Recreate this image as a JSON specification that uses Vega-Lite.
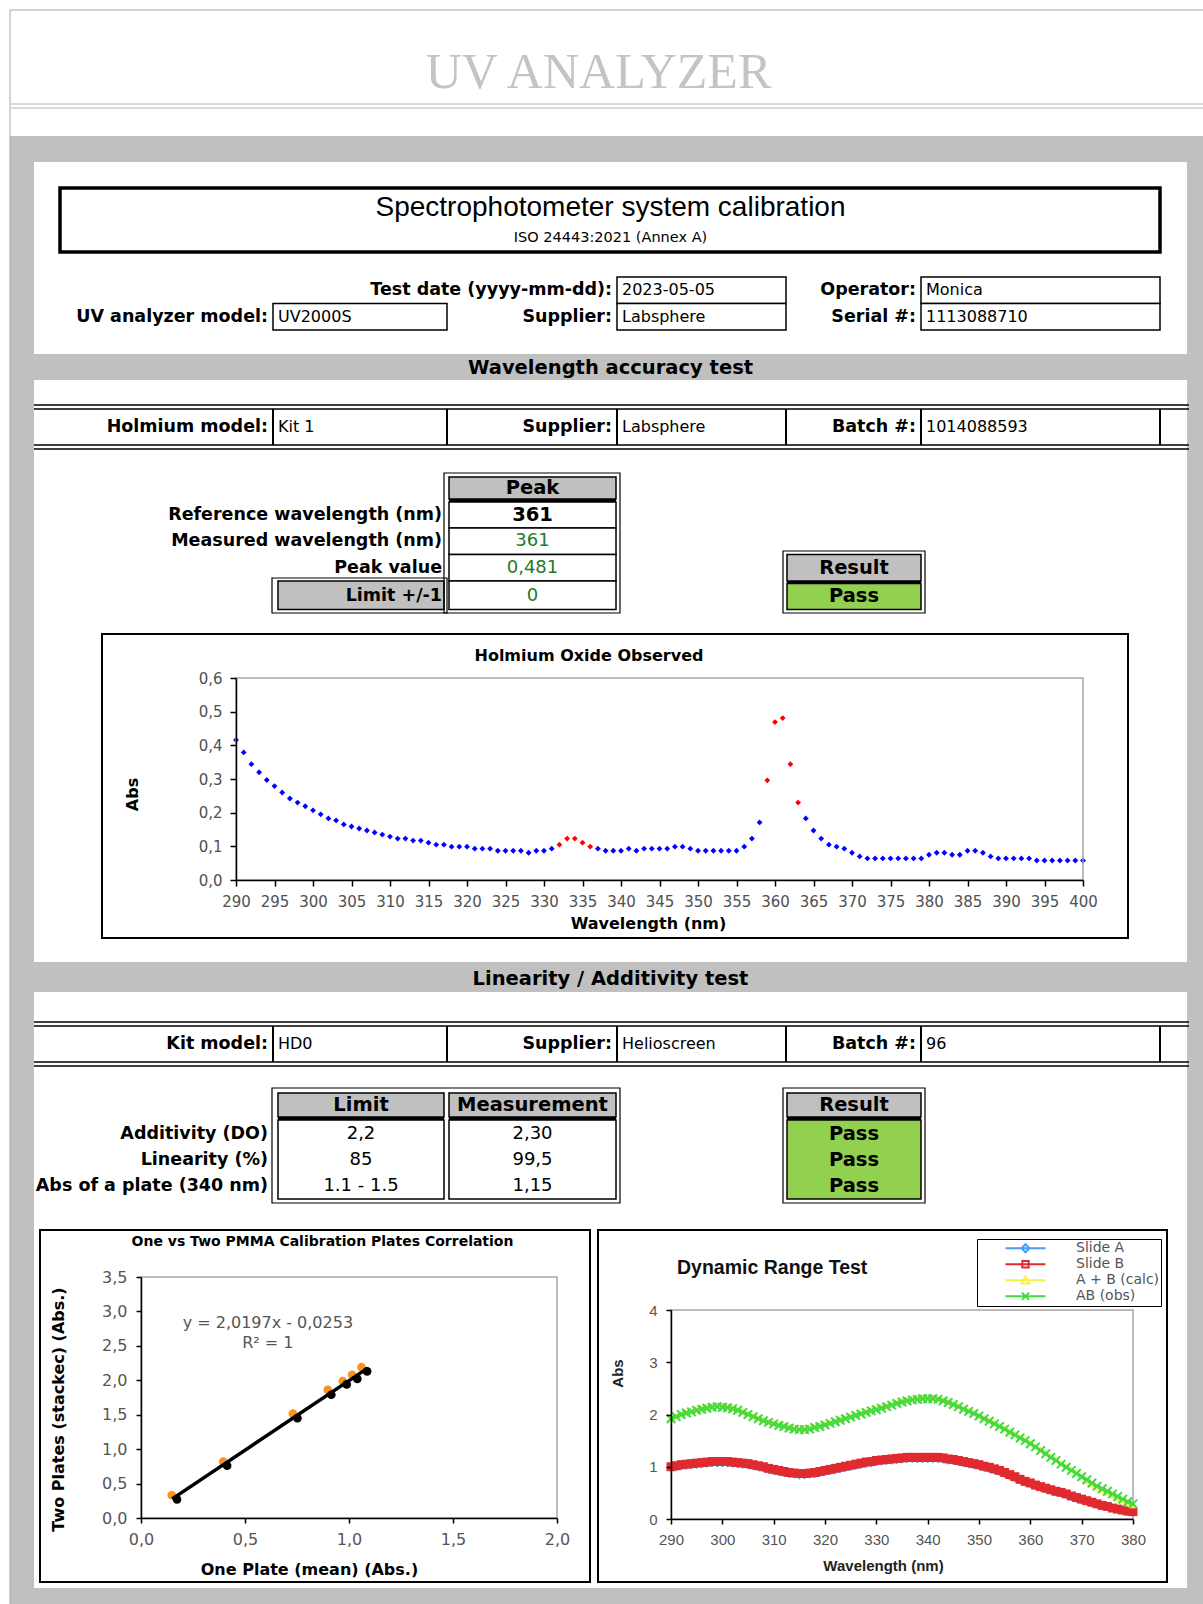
{
  "$schema": "https://vega.github.io/schema/vega-lite/v6.json",
  "width": 1203,
  "height": 1604,
  "padding": 0,
  "autosize": {"type": "none"},
  "background": "white",
  "config": {"view": {"stroke": null}, "axis": {"grid": false, "zindex": 1}},
  "datasets": {
    "rects": [
      {"k":"bg","c1":1,"c2":32,"r1":4,"r2":5},
      {"k":"bg","c1":1,"c2":32,"r1":12,"r2":13},
      {"k":"bg","c1":1,"c2":32,"r1":34,"r2":35},
      {"k":"bg","c1":1,"c2":32,"r1":54,"r2":55},
      {"k":"bg","c1":1,"c2":2,"r1":4,"r2":55},
      {"k":"bg","c1":30,"c2":32,"r1":4,"r2":55},
      {"k":"box","c1":18,"c2":23,"r1":9,"r2":10},
      {"k":"box","c1":18,"c2":23,"r1":10,"r2":11},
      {"k":"box","c1":25,"c2":28,"r1":9,"r2":10},
      {"k":"box","c1":25,"c2":28,"r1":10,"r2":11},
      {"k":"box","c1":8,"c2":11,"r1":10,"r2":11},
      {"k":"head","c1":12,"c2":17,"r1":19,"r2":20},
      {"k":"sep","c1":12,"c2":17,"r1":20,"r2":21},
      {"k":"box","c1":12,"c2":17,"r1":21,"r2":22},
      {"k":"box","c1":12,"c2":17,"r1":22,"r2":24},
      {"k":"box","c1":12,"c2":17,"r1":24,"r2":26},
      {"k":"box","c1":12,"c2":17,"r1":26,"r2":28},
      {"k":"head","c1":9,"c2":10,"r1":26,"r2":28},
      {"k":"head","c1":24,"c2":25,"r1":24,"r2":26},
      {"k":"sep","c1":24,"c2":25,"r1":26,"r2":27},
      {"k":"pass","c1":24,"c2":25,"r1":27,"r2":28},
      {"k":"head","c1":9,"c2":10,"r1":41,"r2":42},
      {"k":"head","c1":12,"c2":17,"r1":41,"r2":42},
      {"k":"head","c1":24,"c2":25,"r1":41,"r2":42},
      {"k":"sep","c1":9,"c2":10,"r1":42,"r2":43},
      {"k":"sep","c1":12,"c2":17,"r1":42,"r2":43},
      {"k":"sep","c1":24,"c2":25,"r1":42,"r2":43},
      {"k":"box","c1":9,"c2":10,"r1":43,"r2":46},
      {"k":"box","c1":12,"c2":17,"r1":43,"r2":46},
      {"k":"pass","c1":24,"c2":25,"r1":43,"r2":46},
      {"k":"frame","c1":10,"c2":19,"r1":18,"r2":29},
      {"k":"frame","c1":7,"c2":11,"r1":25,"r2":29},
      {"k":"frame","c1":22,"c2":26,"r1":23,"r2":29},
      {"k":"frame","c1":7,"c2":19,"r1":40,"r2":47},
      {"k":"frame","c1":22,"c2":26,"r1":40,"r2":47},
      {"k":"tbox","c1":4,"c2":28,"r1":6,"r2":8},
      {"k":"cbox","c1":5,"c2":27,"r1":30,"r2":33},
      {"k":"cbox","c1":3,"c2":15,"r1":48,"r2":53},
      {"k":"cbox","c1":16,"c2":29,"r1":48,"r2":53}
    ],
    "rules": [
      {"k":"grid","c1":1,"c2":32,"r1":1,"r2":1},
      {"k":"grid","c1":1,"c2":1,"r1":1,"r2":55},
      {"k":"dbl","c1":1,"c2":32,"r1":2,"r2":2},
      {"k":"dbl","c1":1,"c2":32,"r1":3,"r2":3},
      {"k":"line","c1":2,"c2":31,"r1":14,"r2":14},
      {"k":"line","c1":2,"c2":31,"r1":15,"r2":15},
      {"k":"line","c1":2,"c2":31,"r1":16,"r2":16},
      {"k":"line","c1":2,"c2":31,"r1":17,"r2":17},
      {"k":"vsep","c1":8,"c2":8,"r1":15,"r2":16},
      {"k":"vsep","c1":11,"c2":11,"r1":15,"r2":16},
      {"k":"vsep","c1":18,"c2":18,"r1":15,"r2":16},
      {"k":"vsep","c1":23,"c2":23,"r1":15,"r2":16},
      {"k":"vsep","c1":25,"c2":25,"r1":15,"r2":16},
      {"k":"vsep","c1":28,"c2":28,"r1":15,"r2":16},
      {"k":"line","c1":2,"c2":31,"r1":36,"r2":36},
      {"k":"line","c1":2,"c2":31,"r1":37,"r2":37},
      {"k":"line","c1":2,"c2":31,"r1":38,"r2":38},
      {"k":"line","c1":2,"c2":31,"r1":39,"r2":39},
      {"k":"vsep","c1":8,"c2":8,"r1":37,"r2":38},
      {"k":"vsep","c1":11,"c2":11,"r1":37,"r2":38},
      {"k":"vsep","c1":18,"c2":18,"r1":37,"r2":38},
      {"k":"vsep","c1":23,"c2":23,"r1":37,"r2":38},
      {"k":"vsep","c1":25,"c2":25,"r1":37,"r2":38},
      {"k":"vsep","c1":28,"c2":28,"r1":37,"r2":38}
    ],
    "texts": [
      {"role":"title","t":"UV ANALYZER","col":7,"row":0},
      {"role":"h1","t":"Spectrophotometer system calibration","col":8,"row":1},
      {"role":"iso","t":"ISO 24443:2021 (Annex A)","col":8,"row":2},
      {"role":"lbl","t":"Test date (yyyy-mm-dd):","col":9,"row":3},
      {"role":"val","t":"2023-05-05","col":10,"row":3},
      {"role":"lbl","t":"Operator:","col":13,"row":3},
      {"role":"val","t":"Monica","col":14,"row":3},
      {"role":"lbl","t":"UV analyzer model:","col":0,"row":4},
      {"role":"val","t":"UV2000S","col":1,"row":4},
      {"role":"lbl","t":"Supplier:","col":9,"row":4},
      {"role":"val","t":"Labsphere","col":10,"row":4},
      {"role":"lbl","t":"Serial #:","col":13,"row":4},
      {"role":"val","t":"1113088710","col":14,"row":4},
      {"role":"hb","t":"Wavelength accuracy test","col":8,"row":5},
      {"role":"lbl","t":"Holmium model:","col":0,"row":6},
      {"role":"val","t":"Kit 1","col":1,"row":6},
      {"role":"lbl","t":"Supplier:","col":9,"row":6},
      {"role":"val","t":"Labsphere","col":10,"row":6},
      {"role":"lbl","t":"Batch #:","col":13,"row":6},
      {"role":"val","t":"1014088593","col":14,"row":6},
      {"role":"hb","t":"Peak","col":5,"row":7},
      {"role":"lbl","t":"Reference wavelength (nm)","col":4,"row":8},
      {"role":"hb","t":"361","col":5,"row":8},
      {"role":"lbl","t":"Measured wavelength (nm)","col":4,"row":9},
      {"role":"tvg","t":"361","col":5,"row":9},
      {"role":"lbl","t":"Peak value","col":4,"row":10},
      {"role":"tvg","t":"0,481","col":5,"row":10},
      {"role":"lbl","t":"Limit +/-1","col":4,"row":11},
      {"role":"tvg","t":"0","col":5,"row":11},
      {"role":"hb","t":"Result","col":12,"row":10},
      {"role":"hb","t":"Pass","col":12,"row":11},
      {"role":"ct","t":"Holmium Oxide Observed","col":6,"row":12},
      {"role":"hb","t":"Linearity / Additivity test","col":8,"row":13},
      {"role":"lbl","t":"Kit model:","col":0,"row":14},
      {"role":"val","t":"HD0","col":1,"row":14},
      {"role":"lbl","t":"Supplier:","col":9,"row":14},
      {"role":"val","t":"Helioscreen","col":10,"row":14},
      {"role":"lbl","t":"Batch #:","col":13,"row":14},
      {"role":"val","t":"96","col":14,"row":14},
      {"role":"hb","t":"Limit","col":3,"row":15},
      {"role":"hb","t":"Measurement","col":5,"row":15},
      {"role":"hb","t":"Result","col":12,"row":15},
      {"role":"lbl","t":"Additivity (DO)","col":0,"row":16},
      {"role":"tv","t":"2,2","col":3,"row":16},
      {"role":"tv","t":"2,30","col":5,"row":16},
      {"role":"hb","t":"Pass","col":12,"row":16},
      {"role":"lbl","t":"Linearity (%)","col":0,"row":17},
      {"role":"tv","t":"85","col":3,"row":17},
      {"role":"tv","t":"99,5","col":5,"row":17},
      {"role":"hb","t":"Pass","col":12,"row":17},
      {"role":"lbl","t":"Abs of a plate (340 nm)","col":0,"row":18},
      {"role":"tv","t":"1.1 - 1.5","col":3,"row":18},
      {"role":"tv","t":"1,15","col":5,"row":18},
      {"role":"hb","t":"Pass","col":12,"row":18},
      {"role":"ct2","t":"One vs Two PMMA Calibration Plates Correlation","col":2,"row":19},
      {"role":"dyn","t":"Dynamic Range Test","col":11,"row":20}
    ],
    "holmium": [
      {"nm":290,"abs":0.416,"region":"base"},{"nm":291,"abs":0.379,"region":"base"},{"nm":292,"abs":0.344,"region":"base"},{"nm":293,"abs":0.320,"region":"base"},{"nm":294,"abs":0.297,"region":"base"},
      {"nm":295,"abs":0.279,"region":"base"},{"nm":296,"abs":0.260,"region":"base"},{"nm":297,"abs":0.242,"region":"base"},{"nm":298,"abs":0.230,"region":"base"},{"nm":299,"abs":0.219,"region":"base"},
      {"nm":300,"abs":0.207,"region":"base"},{"nm":301,"abs":0.195,"region":"base"},{"nm":302,"abs":0.183,"region":"base"},{"nm":303,"abs":0.177,"region":"base"},{"nm":304,"abs":0.165,"region":"base"},
      {"nm":305,"abs":0.159,"region":"base"},{"nm":306,"abs":0.153,"region":"base"},{"nm":307,"abs":0.147,"region":"base"},{"nm":308,"abs":0.141,"region":"base"},{"nm":309,"abs":0.135,"region":"base"},
      {"nm":310,"abs":0.129,"region":"base"},{"nm":311,"abs":0.123,"region":"base"},{"nm":312,"abs":0.123,"region":"base"},{"nm":313,"abs":0.117,"region":"base"},{"nm":314,"abs":0.117,"region":"base"},
      {"nm":315,"abs":0.111,"region":"base"},{"nm":316,"abs":0.105,"region":"base"},{"nm":317,"abs":0.105,"region":"base"},{"nm":318,"abs":0.099,"region":"base"},{"nm":319,"abs":0.099,"region":"base"},
      {"nm":320,"abs":0.099,"region":"base"},{"nm":321,"abs":0.093,"region":"base"},{"nm":322,"abs":0.093,"region":"base"},{"nm":323,"abs":0.093,"region":"base"},{"nm":324,"abs":0.087,"region":"base"},
      {"nm":325,"abs":0.087,"region":"base"},{"nm":326,"abs":0.087,"region":"base"},{"nm":327,"abs":0.087,"region":"base"},{"nm":328,"abs":0.081,"region":"base"},{"nm":329,"abs":0.087,"region":"base"},
      {"nm":330,"abs":0.087,"region":"base"},{"nm":331,"abs":0.093,"region":"base"},{"nm":332,"abs":0.105,"region":"peak"},{"nm":333,"abs":0.123,"region":"peak"},{"nm":334,"abs":0.123,"region":"peak"},
      {"nm":335,"abs":0.111,"region":"peak"},{"nm":336,"abs":0.099,"region":"peak"},{"nm":337,"abs":0.093,"region":"base"},{"nm":338,"abs":0.087,"region":"base"},{"nm":339,"abs":0.087,"region":"base"},
      {"nm":340,"abs":0.087,"region":"base"},{"nm":341,"abs":0.093,"region":"base"},{"nm":342,"abs":0.087,"region":"base"},{"nm":343,"abs":0.093,"region":"base"},{"nm":344,"abs":0.093,"region":"base"},
      {"nm":345,"abs":0.093,"region":"base"},{"nm":346,"abs":0.093,"region":"base"},{"nm":347,"abs":0.099,"region":"base"},{"nm":348,"abs":0.099,"region":"base"},{"nm":349,"abs":0.093,"region":"base"},
      {"nm":350,"abs":0.087,"region":"base"},{"nm":351,"abs":0.087,"region":"base"},{"nm":352,"abs":0.087,"region":"base"},{"nm":353,"abs":0.087,"region":"base"},{"nm":354,"abs":0.087,"region":"base"},
      {"nm":355,"abs":0.087,"region":"base"},{"nm":356,"abs":0.099,"region":"base"},{"nm":357,"abs":0.123,"region":"base"},{"nm":358,"abs":0.171,"region":"base"},{"nm":359,"abs":0.296,"region":"peak"},
      {"nm":360,"abs":0.469,"region":"peak"},{"nm":361,"abs":0.481,"region":"peak"},{"nm":362,"abs":0.344,"region":"peak"},{"nm":363,"abs":0.230,"region":"peak"},{"nm":364,"abs":0.183,"region":"base"},
      {"nm":365,"abs":0.147,"region":"base"},{"nm":366,"abs":0.123,"region":"base"},{"nm":367,"abs":0.105,"region":"base"},{"nm":368,"abs":0.099,"region":"base"},{"nm":369,"abs":0.093,"region":"base"},
      {"nm":370,"abs":0.081,"region":"base"},{"nm":371,"abs":0.070,"region":"base"},{"nm":372,"abs":0.064,"region":"base"},{"nm":373,"abs":0.064,"region":"base"},{"nm":374,"abs":0.064,"region":"base"},
      {"nm":375,"abs":0.064,"region":"base"},{"nm":376,"abs":0.064,"region":"base"},{"nm":377,"abs":0.064,"region":"base"},{"nm":378,"abs":0.064,"region":"base"},{"nm":379,"abs":0.064,"region":"base"},
      {"nm":380,"abs":0.075,"region":"base"},{"nm":381,"abs":0.081,"region":"base"},{"nm":382,"abs":0.081,"region":"base"},{"nm":383,"abs":0.075,"region":"base"},{"nm":384,"abs":0.075,"region":"base"},
      {"nm":385,"abs":0.087,"region":"base"},{"nm":386,"abs":0.087,"region":"base"},{"nm":387,"abs":0.081,"region":"base"},{"nm":388,"abs":0.070,"region":"base"},{"nm":389,"abs":0.064,"region":"base"},
      {"nm":390,"abs":0.064,"region":"base"},{"nm":391,"abs":0.064,"region":"base"},{"nm":392,"abs":0.064,"region":"base"},{"nm":393,"abs":0.064,"region":"base"},{"nm":394,"abs":0.058,"region":"base"},
      {"nm":395,"abs":0.058,"region":"base"},{"nm":396,"abs":0.058,"region":"base"},{"nm":397,"abs":0.058,"region":"base"},{"nm":398,"abs":0.058,"region":"base"},{"nm":399,"abs":0.058,"region":"base"},
      {"nm":400,"abs":0.058,"region":"base"}
    ],
    "pmma": [
      {"one":0.148,"two":0.33,"series":"measured"},{"one":0.395,"two":0.82,"series":"measured"},{"one":0.73,"two":1.515,"series":"measured"},
      {"one":0.898,"two":1.86,"series":"measured"},{"one":0.97,"two":1.99,"series":"measured"},{"one":1.015,"two":2.08,"series":"measured"},{"one":1.06,"two":2.19,"series":"measured"},
      {"one":0.173,"two":0.27,"series":"predicted"},{"one":0.414,"two":0.76,"series":"predicted"},{"one":0.752,"two":1.45,"series":"predicted"},
      {"one":0.915,"two":1.79,"series":"predicted"},{"one":0.989,"two":1.94,"series":"predicted"},{"one":1.04,"two":2.02,"series":"predicted"},{"one":1.087,"two":2.13,"series":"predicted"}
    ],
    "pmmaFit": [{"one":0.15,"two":0.278},{"one":1.09,"two":2.176}],
    "pmmaLabel": [{"one":0.61,"two":2.83,"label":"y = 2,0197x - 0,0253"},{"one":0.61,"two":2.54,"label":"R² = 1"}],
    "dyn": [
      {"nm":290,"slideA":0.95,"slideB":1.00,"calc":1.94,"obs":1.92},{"nm":291,"slideA":0.97,"slideB":1.02,"calc":1.98,"obs":1.96},
      {"nm":292,"slideA":0.99,"slideB":1.04,"calc":2.02,"obs":2.00},{"nm":293,"slideA":1.00,"slideB":1.05,"calc":2.05,"obs":2.03},
      {"nm":294,"slideA":1.01,"slideB":1.06,"calc":2.07,"obs":2.05},{"nm":295,"slideA":1.02,"slideB":1.07,"calc":2.10,"obs":2.08},
      {"nm":296,"slideA":1.03,"slideB":1.08,"calc":2.12,"obs":2.10},{"nm":297,"slideA":1.04,"slideB":1.09,"calc":2.14,"obs":2.12},
      {"nm":298,"slideA":1.05,"slideB":1.10,"calc":2.16,"obs":2.14},{"nm":299,"slideA":1.05,"slideB":1.10,"calc":2.17,"obs":2.15},
      {"nm":300,"slideA":1.05,"slideB":1.10,"calc":2.16,"obs":2.14},{"nm":301,"slideA":1.05,"slideB":1.10,"calc":2.15,"obs":2.13},
      {"nm":302,"slideA":1.04,"slideB":1.09,"calc":2.13,"obs":2.11},{"nm":303,"slideA":1.03,"slideB":1.08,"calc":2.10,"obs":2.08},
      {"nm":304,"slideA":1.02,"slideB":1.07,"calc":2.06,"obs":2.04},{"nm":305,"slideA":1.01,"slideB":1.06,"calc":2.02,"obs":2.00},
      {"nm":306,"slideA":0.99,"slideB":1.04,"calc":1.98,"obs":1.96},{"nm":307,"slideA":0.97,"slideB":1.02,"calc":1.94,"obs":1.92},
      {"nm":308,"slideA":0.95,"slideB":1.00,"calc":1.90,"obs":1.88},{"nm":309,"slideA":0.92,"slideB":0.97,"calc":1.87,"obs":1.85},
      {"nm":310,"slideA":0.90,"slideB":0.95,"calc":1.84,"obs":1.82},{"nm":311,"slideA":0.88,"slideB":0.93,"calc":1.81,"obs":1.79},
      {"nm":312,"slideA":0.86,"slideB":0.91,"calc":1.79,"obs":1.77},{"nm":313,"slideA":0.84,"slideB":0.89,"calc":1.76,"obs":1.74},
      {"nm":314,"slideA":0.83,"slideB":0.88,"calc":1.74,"obs":1.72},{"nm":315,"slideA":0.82,"slideB":0.87,"calc":1.73,"obs":1.71},
      {"nm":316,"slideA":0.82,"slideB":0.87,"calc":1.73,"obs":1.71},{"nm":317,"slideA":0.83,"slideB":0.88,"calc":1.74,"obs":1.72},
      {"nm":318,"slideA":0.84,"slideB":0.89,"calc":1.77,"obs":1.75},{"nm":319,"slideA":0.86,"slideB":0.91,"calc":1.79,"obs":1.77},
      {"nm":320,"slideA":0.88,"slideB":0.93,"calc":1.82,"obs":1.80},{"nm":321,"slideA":0.90,"slideB":0.95,"calc":1.85,"obs":1.83},
      {"nm":322,"slideA":0.92,"slideB":0.97,"calc":1.88,"obs":1.86},{"nm":323,"slideA":0.94,"slideB":0.99,"calc":1.91,"obs":1.89},
      {"nm":324,"slideA":0.96,"slideB":1.01,"calc":1.94,"obs":1.92},{"nm":325,"slideA":0.98,"slideB":1.03,"calc":1.97,"obs":1.95},
      {"nm":326,"slideA":1.00,"slideB":1.05,"calc":2.00,"obs":1.98},{"nm":327,"slideA":1.02,"slideB":1.07,"calc":2.03,"obs":2.01},
      {"nm":328,"slideA":1.04,"slideB":1.09,"calc":2.06,"obs":2.04},{"nm":329,"slideA":1.05,"slideB":1.10,"calc":2.09,"obs":2.07},
      {"nm":330,"slideA":1.07,"slideB":1.12,"calc":2.11,"obs":2.09},{"nm":331,"slideA":1.08,"slideB":1.13,"calc":2.14,"obs":2.12},
      {"nm":332,"slideA":1.09,"slideB":1.14,"calc":2.17,"obs":2.15},{"nm":333,"slideA":1.10,"slideB":1.15,"calc":2.20,"obs":2.18},
      {"nm":334,"slideA":1.11,"slideB":1.16,"calc":2.23,"obs":2.21},{"nm":335,"slideA":1.12,"slideB":1.17,"calc":2.26,"obs":2.24},
      {"nm":336,"slideA":1.13,"slideB":1.18,"calc":2.28,"obs":2.26},{"nm":337,"slideA":1.13,"slideB":1.18,"calc":2.30,"obs":2.28},
      {"nm":338,"slideA":1.13,"slideB":1.18,"calc":2.31,"obs":2.29},{"nm":339,"slideA":1.13,"slideB":1.18,"calc":2.32,"obs":2.30},
      {"nm":340,"slideA":1.13,"slideB":1.18,"calc":2.32,"obs":2.30},{"nm":341,"slideA":1.13,"slideB":1.18,"calc":2.32,"obs":2.30},
      {"nm":342,"slideA":1.13,"slideB":1.18,"calc":2.31,"obs":2.29},{"nm":343,"slideA":1.12,"slideB":1.17,"calc":2.28,"obs":2.26},
      {"nm":344,"slideA":1.10,"slideB":1.15,"calc":2.25,"obs":2.23},{"nm":345,"slideA":1.09,"slideB":1.14,"calc":2.21,"obs":2.19},
      {"nm":346,"slideA":1.07,"slideB":1.12,"calc":2.17,"obs":2.15},{"nm":347,"slideA":1.05,"slideB":1.10,"calc":2.12,"obs":2.10},
      {"nm":348,"slideA":1.03,"slideB":1.08,"calc":2.08,"obs":2.06},{"nm":349,"slideA":1.01,"slideB":1.06,"calc":2.04,"obs":2.02},
      {"nm":350,"slideA":0.99,"slideB":1.04,"calc":1.99,"obs":1.97},{"nm":351,"slideA":0.96,"slideB":1.01,"calc":1.94,"obs":1.92},
      {"nm":352,"slideA":0.94,"slideB":0.99,"calc":1.89,"obs":1.87},{"nm":353,"slideA":0.91,"slideB":0.96,"calc":1.84,"obs":1.82},
      {"nm":354,"slideA":0.88,"slideB":0.93,"calc":1.79,"obs":1.77},{"nm":355,"slideA":0.84,"slideB":0.89,"calc":1.74,"obs":1.72},
      {"nm":356,"slideA":0.80,"slideB":0.85,"calc":1.68,"obs":1.66},{"nm":357,"slideA":0.76,"slideB":0.81,"calc":1.63,"obs":1.61},
      {"nm":358,"slideA":0.72,"slideB":0.76,"calc":1.57,"obs":1.55},{"nm":359,"slideA":0.68,"slideB":0.72,"calc":1.52,"obs":1.50},
      {"nm":360,"slideA":0.65,"slideB":0.69,"calc":1.46,"obs":1.44},{"nm":361,"slideA":0.61,"slideB":0.65,"calc":1.40,"obs":1.38},
      {"nm":362,"slideA":0.58,"slideB":0.62,"calc":1.33,"obs":1.31},{"nm":363,"slideA":0.55,"slideB":0.59,"calc":1.27,"obs":1.25},
      {"nm":364,"slideA":0.52,"slideB":0.56,"calc":1.20,"obs":1.18},{"nm":365,"slideA":0.49,"slideB":0.53,"calc":1.14,"obs":1.12},
      {"nm":366,"slideA":0.47,"slideB":0.51,"calc":1.07,"obs":1.05},{"nm":367,"slideA":0.44,"slideB":0.48,"calc":1.01,"obs":0.99},
      {"nm":368,"slideA":0.40,"slideB":0.44,"calc":0.95,"obs":0.93},{"nm":369,"slideA":0.37,"slideB":0.41,"calc":0.89,"obs":0.87},
      {"nm":370,"slideA":0.34,"slideB":0.38,"calc":0.81,"obs":0.81},{"nm":371,"slideA":0.31,"slideB":0.35,"calc":0.73,"obs":0.75},
      {"nm":372,"slideA":0.28,"slideB":0.32,"calc":0.67,"obs":0.69},{"nm":373,"slideA":0.26,"slideB":0.29,"calc":0.61,"obs":0.63},
      {"nm":374,"slideA":0.23,"slideB":0.26,"calc":0.56,"obs":0.58},{"nm":375,"slideA":0.21,"slideB":0.24,"calc":0.51,"obs":0.53},
      {"nm":376,"slideA":0.18,"slideB":0.21,"calc":0.46,"obs":0.48},{"nm":377,"slideA":0.16,"slideB":0.19,"calc":0.41,"obs":0.43},
      {"nm":378,"slideA":0.14,"slideB":0.17,"calc":0.36,"obs":0.38},{"nm":379,"slideA":0.12,"slideB":0.15,"calc":0.31,"obs":0.33},
      {"nm":380,"slideA":0.11,"slideB":0.14,"calc":0.27,"obs":0.29}
    ]
  },
  "layer": [
    {
      "data": {"name": "rects"},
      "encoding": {
        "x": {"field": "c1", "type": "quantitative", "axis": null, "scale": {"domain": [0,1,2,3,4,5,6,7,8,9,10,11,12,13,14,15,16,17,18,19,20,21,22,23,24,25,26,27,28,29,30,31,32], "range": [0,10,34,40,60,102,133,272,273,278,444,447,449,475,512,590,598,616,617,620,677,703,783,786,787,921,925,1128,1160,1167,1187,1189,1203], "zero": false, "nice": false}},
        "x2": {"field": "c2"},
        "y": {"field": "r1", "type": "quantitative", "axis": null, "scale": {"domain": [0,1,2,3,4,5,6,7,8,9,10,11,12,13,14,15,16,17,18,19,20,21,22,23,24,25,26,27,28,29,30,31,32,33,34,35,36,37,38,39,40,41,42,43,44,45,46,47,48,49,50,51,52,53,54,55], "range": [0,10,104,108,136,162,188,228,252,277,303.5,330,354,380,405,409,445,449,473,477,499,502,528,551,554.5,578,581,583.5,609.5,613,634,646,666,938,962,992,1022,1026,1062,1066,1088,1093,1117,1120,1147,1173,1199,1203,1230,1232,1252,1258,1278,1582,1588,1604], "zero": false, "nice": false}},
        "y2": {"field": "r2"}
      },
      "layer": [
        {"transform": [{"filter": {"field": "k", "oneOf": ["bg", "sep"]}}],
         "mark": {"type": "rect", "strokeWidth": 0},
         "encoding": {"fill": {"field": "k", "type": "nominal", "legend": null, "scale": {"domain": ["bg","sep","box","head","pass"], "range": ["#c0c0c0","#000000","#ffffff","#c0c0c0","#92d050"]}}}},
        {"transform": [{"filter": {"field": "k", "oneOf": ["box", "head", "pass"]}}],
         "mark": {"type": "rect", "stroke": "#000000", "strokeWidth": 1.5},
         "encoding": {"fill": {"field": "k", "type": "nominal", "legend": null, "scale": {"domain": ["bg","sep","box","head","pass"], "range": ["#c0c0c0","#000000","#ffffff","#c0c0c0","#92d050"]}}}},
        {"transform": [{"filter": "datum.k === 'frame'"}], "mark": {"type": "rect", "filled": false, "color": "#000000", "strokeWidth": 1.2}},
        {"transform": [{"filter": "datum.k === 'tbox'"}], "mark": {"type": "rect", "filled": false, "color": "#000000", "strokeWidth": 3.5}},
        {"transform": [{"filter": "datum.k === 'cbox'"}], "mark": {"type": "rect", "filled": false, "color": "#000000", "strokeWidth": 2}}
      ]
    },
    {
      "data": {"name": "rules"},
      "encoding": {
        "x": {"field": "c1", "type": "quantitative", "axis": null, "scale": {"domain": [0,1,2,3,4,5,6,7,8,9,10,11,12,13,14,15,16,17,18,19,20,21,22,23,24,25,26,27,28,29,30,31,32], "range": [0,10,34,40,60,102,133,272,273,278,444,447,449,475,512,590,598,616,617,620,677,703,783,786,787,921,925,1128,1160,1167,1187,1189,1203], "zero": false, "nice": false}},
        "x2": {"field": "c2"},
        "y": {"field": "r1", "type": "quantitative", "axis": null, "scale": {"domain": [0,1,2,3,4,5,6,7,8,9,10,11,12,13,14,15,16,17,18,19,20,21,22,23,24,25,26,27,28,29,30,31,32,33,34,35,36,37,38,39,40,41,42,43,44,45,46,47,48,49,50,51,52,53,54,55], "range": [0,10,104,108,136,162,188,228,252,277,303.5,330,354,380,405,409,445,449,473,477,499,502,528,551,554.5,578,581,583.5,609.5,613,634,646,666,938,962,992,1022,1026,1062,1066,1088,1093,1117,1120,1147,1173,1199,1203,1230,1232,1252,1258,1278,1582,1588,1604], "zero": false, "nice": false}},
        "y2": {"field": "r2"}
      },
      "layer": [
        {"transform": [{"filter": "datum.k === 'grid'"}], "mark": {"type": "rule", "color": "#a6a6a6", "strokeWidth": 1}},
        {"transform": [{"filter": "datum.k === 'dbl'"}], "mark": {"type": "rule", "color": "#d9d9d9", "strokeWidth": 2}},
        {"transform": [{"filter": "datum.k === 'line'"}], "mark": {"type": "rule", "color": "#000000", "strokeWidth": 1.5}},
        {"transform": [{"filter": "datum.k === 'vsep'"}], "mark": {"type": "rule", "color": "#000000", "strokeWidth": 2}}
      ]
    },
    {
      "data": {"name": "texts"},
      "encoding": {
        "x": {"field": "col", "type": "quantitative", "axis": null, "scale": {"domain": [0,1,2,3,4,5,6,7,8,9,10,11,12,13,14], "range": [268,278,322.5,361,442,532.5,589,598.5,610.5,612,622,677,854,916,926], "zero": false, "nice": false}},
        "y": {"field": "row", "type": "quantitative", "axis": null, "scale": {"domain": [0,1,2,3,4,5,6,7,8,9,10,11,12,13,14,15,16,17,18,19,20], "range": [73,208,238,290,317,367.5,427,488,515,541,567.5,595.5,656,979,1044,1105,1133.5,1160,1186,1242,1268], "zero": false, "nice": false}},
        "text": {"field": "t", "type": "nominal"}
      },
      "layer": [
        {"transform": [{"filter": "datum.role === 'title'"}],
         "mark": {"type": "text", "align": "center", "baseline": "middle", "font": "Liberation Serif", "fontSize": 50, "color": "#c4c4c4"}},
        {"transform": [{"filter": "datum.role === 'h1'"}],
         "mark": {"type": "text", "align": "center", "baseline": "middle", "font": "Liberation Sans", "fontSize": 28, "color": "#000000"}},
        {"transform": [{"filter": "datum.role === 'iso'"}],
         "mark": {"type": "text", "align": "center", "baseline": "middle", "font": "DejaVu Sans", "fontSize": 14.5, "color": "#000000"}},
        {"transform": [{"filter": "datum.role === 'hb'"}],
         "mark": {"type": "text", "align": "center", "baseline": "middle", "font": "DejaVu Sans", "fontWeight": "bold", "fontSize": 19.5, "color": "#000000"}},
        {"transform": [{"filter": "datum.role === 'tv'"}],
         "mark": {"type": "text", "align": "center", "baseline": "middle", "font": "DejaVu Sans", "fontSize": 18, "color": "#000000"}},
        {"transform": [{"filter": "datum.role === 'tvg'"}],
         "mark": {"type": "text", "align": "center", "baseline": "middle", "font": "DejaVu Sans", "fontSize": 18, "color": "#1e7b1e"}},
        {"transform": [{"filter": "datum.role === 'ct'"}],
         "mark": {"type": "text", "align": "center", "baseline": "middle", "font": "DejaVu Sans", "fontWeight": "bold", "fontSize": 16, "color": "#000000"}},
        {"transform": [{"filter": "datum.role === 'ct2'"}],
         "mark": {"type": "text", "align": "center", "baseline": "middle", "font": "DejaVu Sans", "fontWeight": "bold", "fontSize": 14, "color": "#000000"}},
        {"transform": [{"filter": "datum.role === 'lbl'"}],
         "mark": {"type": "text", "align": "right", "baseline": "middle", "font": "DejaVu Sans", "fontWeight": "bold", "fontSize": 17.5, "color": "#000000"}},
        {"transform": [{"filter": "datum.role === 'val'"}],
         "mark": {"type": "text", "align": "left", "baseline": "middle", "font": "DejaVu Sans", "fontSize": 16, "color": "#000000"}},
        {"transform": [{"filter": "datum.role === 'dyn'"}],
         "mark": {"type": "text", "align": "left", "baseline": "middle", "font": "Liberation Sans", "fontWeight": "bold", "fontSize": 19.5, "color": "#111111"}}
      ]
    },
    {
      "data": {"name": "holmium"},
      "layer": [
        {"mark": {"type": "point", "shape": "diamond", "filled": true, "size": 34, "opacity": 1},
         "encoding": {
           "x": {"field": "nm", "type": "quantitative", "scale": {"domain": [290, 400], "range": [236, 1083], "zero": false, "nice": false},
                 "axis": {"orient": "bottom", "offset": -724, "values": [290,295,300,305,310,315,320,325,330,335,340,345,350,355,360,365,370,375,380,385,390,395,400], "title": "Wavelength (nm)", "grid": false, "zindex": 1, "labelFlush": false, "labelOverlap": false, "labelFont": "DejaVu Sans", "labelFontSize": 15, "labelColor": "#505050", "labelPadding": 8, "tickSize": 6, "tickColor": "#000000", "tickWidth": 1.5, "domainColor": "#000000", "domainWidth": 1.5, "titleFont": "DejaVu Sans", "titleFontSize": 16, "titleFontWeight": "bold", "titleColor": "#000000", "titleX": 648, "titleY": 43, "titleBaseline": "middle", "titleAlign": "center"}},
           "y": {"field": "abs", "type": "quantitative", "scale": {"domain": [0, 0.6], "range": [880, 678], "zero": false, "nice": false},
                 "axis": {"orient": "left", "offset": -236, "values": [0,0.1,0.2,0.3,0.4,0.5,0.6], "labelExpr": "replace(format(datum.value, '.1f'), '.', ',')", "title": "Abs", "grid": false, "zindex": 1, "labelFlush": false, "labelOverlap": false, "labelFont": "DejaVu Sans", "labelFontSize": 15, "labelColor": "#505050", "labelPadding": 8, "tickSize": 6, "tickColor": "#000000", "tickWidth": 1.5, "domainColor": "#000000", "domainWidth": 1.5, "titleFont": "DejaVu Sans", "titleFontSize": 16, "titleFontWeight": "bold", "titleColor": "#000000", "titleX": -104, "titleY": 794, "titleAngle": -90, "titleBaseline": "middle", "titleAlign": "center"}},
           "color": {"field": "region", "type": "nominal", "legend": null, "scale": {"domain": ["base", "peak"], "range": ["#0000ff", "#ff0000"]}}}},
        {"data": {"values": [{}]},
         "mark": {"type": "rect", "filled": false, "color": "#a6a6a6", "strokeWidth": 1.5},
         "encoding": {
           "x": {"datum": 290, "type": "quantitative", "scale": {"domain": [290, 400], "range": [236, 1083], "zero": false, "nice": false}},
           "x2": {"datum": 400},
           "y": {"datum": 0, "type": "quantitative", "scale": {"domain": [0, 0.6], "range": [880, 678], "zero": false, "nice": false}},
           "y2": {"datum": 0.6}}}
      ]
    },
    {
      "layer": [
        {"data": {"name": "pmma"},
         "mark": {"type": "point", "shape": "circle", "filled": true, "size": 75, "opacity": 1},
         "encoding": {
           "x": {"field": "one", "type": "quantitative", "scale": {"domain": [0, 2], "range": [141, 557], "zero": false, "nice": false},
                 "axis": {"orient": "bottom", "offset": -86, "values": [0,0.5,1,1.5,2], "labelExpr": "replace(format(datum.value, '.1f'), '.', ',')", "title": "One Plate (mean) (Abs.)", "grid": false, "zindex": 1, "labelFlush": false, "labelOverlap": false, "labelFont": "DejaVu Sans", "labelFontSize": 16, "labelColor": "#555555", "labelPadding": 8, "tickSize": 5, "tickColor": "#000000", "tickWidth": 1.5, "domainColor": "#000000", "domainWidth": 1.5, "titleFont": "DejaVu Sans", "titleFontSize": 16, "titleFontWeight": "bold", "titleColor": "#000000", "titleX": 309, "titleY": 51, "titleBaseline": "middle", "titleAlign": "center"}},
           "y": {"field": "two", "type": "quantitative", "scale": {"domain": [0, 3.5], "range": [1518, 1277], "zero": false, "nice": false},
                 "axis": {"orient": "left", "offset": -141, "values": [0,0.5,1,1.5,2,2.5,3,3.5], "labelExpr": "replace(format(datum.value, '.1f'), '.', ',')", "title": "Two Plates (stackec) (Abs.)", "grid": false, "zindex": 1, "labelFlush": false, "labelOverlap": false, "labelFont": "DejaVu Sans", "labelFontSize": 16, "labelColor": "#555555", "labelPadding": 9, "tickSize": 5, "tickColor": "#000000", "tickWidth": 1.5, "domainColor": "#000000", "domainWidth": 1.5, "titleFont": "DejaVu Sans", "titleFontSize": 16, "titleFontWeight": "bold", "titleColor": "#000000", "titleX": -83, "titleY": 1409, "titleAngle": -90, "titleBaseline": "middle", "titleAlign": "center"}},
           "color": {"field": "series", "type": "nominal", "legend": null, "scale": {"domain": ["measured", "predicted"], "range": ["#f7941d", "#000000"]}}}},
        {"data": {"values": [{}]},
         "mark": {"type": "rect", "filled": false, "color": "#a6a6a6", "strokeWidth": 1.5},
         "encoding": {
           "x": {"datum": 0, "type": "quantitative", "scale": {"domain": [0, 2], "range": [141, 557], "zero": false, "nice": false}},
           "x2": {"datum": 2},
           "y": {"datum": 0, "type": "quantitative", "scale": {"domain": [0, 3.5], "range": [1518, 1277], "zero": false, "nice": false}},
           "y2": {"datum": 3.5}}},
        {"data": {"name": "pmmaFit"},
         "mark": {"type": "line", "color": "#000000", "strokeWidth": 3.5},
         "encoding": {
           "x": {"field": "one", "type": "quantitative", "scale": {"domain": [0, 2], "range": [141, 557], "zero": false, "nice": false}},
           "y": {"field": "two", "type": "quantitative", "scale": {"domain": [0, 3.5], "range": [1518, 1277], "zero": false, "nice": false}}}},
        {"data": {"name": "pmmaLabel"},
         "mark": {"type": "text", "align": "center", "baseline": "middle", "font": "DejaVu Sans", "fontSize": 16, "color": "#555555"},
         "encoding": {
           "x": {"field": "one", "type": "quantitative", "scale": {"domain": [0, 2], "range": [141, 557], "zero": false, "nice": false}},
           "y": {"field": "two", "type": "quantitative", "scale": {"domain": [0, 3.5], "range": [1518, 1277], "zero": false, "nice": false}},
           "text": {"field": "label", "type": "nominal"}}}
      ]
    },
    {
      "data": {"name": "dyn"},
      "layer": [
        {"mark": {"type": "line", "color": "#4d9bf5", "strokeWidth": 1},
         "encoding": {
           "x": {"field": "nm", "type": "quantitative", "scale": {"domain": [290, 380], "range": [671, 1133], "zero": false, "nice": false},
                 "axis": {"orient": "bottom", "offset": -85, "values": [290,300,310,320,330,340,350,360,370,380], "title": "Wavelength (nm)", "grid": false, "zindex": 1, "labelFlush": false, "labelOverlap": false, "labelFont": "Liberation Sans", "labelFontSize": 15, "labelColor": "#555555", "labelPadding": 8, "tickSize": 5, "tickColor": "#000000", "tickWidth": 1.5, "domainColor": "#000000", "domainWidth": 1.5, "titleFont": "Liberation Sans", "titleFontSize": 15, "titleFontWeight": "bold", "titleColor": "#222222", "titleX": 883, "titleY": 46, "titleBaseline": "middle", "titleAlign": "center"}},
           "y": {"field": "slideA", "type": "quantitative", "scale": {"domain": [0, 4], "range": [1519, 1310], "zero": false, "nice": false},
                 "axis": {"orient": "left", "offset": -671, "values": [0,1,2,3,4], "format": "d", "title": "Abs", "grid": false, "zindex": 1, "labelFlush": false, "labelOverlap": false, "labelFont": "Liberation Sans", "labelFontSize": 15, "labelColor": "#555555", "labelPadding": 9, "tickSize": 5, "tickColor": "#000000", "tickWidth": 1.5, "domainColor": "#000000", "domainWidth": 1.5, "titleFont": "Liberation Sans", "titleFontSize": 15, "titleFontWeight": "bold", "titleColor": "#222222", "titleX": -54, "titleY": 1373, "titleAngle": -90, "titleBaseline": "middle", "titleAlign": "center"}}}},
        {"data": {"values": [{}]},
         "mark": {"type": "rect", "filled": false, "color": "#a6a6a6", "strokeWidth": 1.5},
         "encoding": {
           "x": {"datum": 290, "type": "quantitative", "scale": {"domain": [290, 380], "range": [671, 1133], "zero": false, "nice": false}},
           "x2": {"datum": 380},
           "y": {"datum": 0, "type": "quantitative", "scale": {"domain": [0, 4], "range": [1519, 1310], "zero": false, "nice": false}},
           "y2": {"datum": 4}}},
        {"mark": {"type": "point", "filled": false, "opacity": 0, "strokeWidth": 1.5},
         "encoding": {
           "x": {"field": "nm", "type": "quantitative", "scale": {"domain": [290, 380], "range": [671, 1133], "zero": false, "nice": false}},
           "y": {"field": "obs", "type": "quantitative", "scale": {"domain": [0, 4], "range": [1519, 1310], "zero": false, "nice": false}},
           "color": {"datum": "Slide A", "type": "nominal",
                     "scale": {"domain": ["Slide A", "Slide B", "A + B (calc)", "AB (obs)"], "range": ["#4d9bf5", "#e02a30", "#f2f24a", "#42d942"]},
                     "legend": {"orient": "none", "legendX": 977, "legendY": 1239, "title": null, "padding": 1.5, "symbolSize": 1600, "clipHeight": 15.5, "symbolOffset": 26, "labelOffset": 29.5, "rowPadding": 0, "labelFont": "DejaVu Sans", "labelFontSize": 14, "labelColor": "#555555", "strokeColor": "#000000", "fillColor": "#ffffff", "symbolOpacity": 1, "symbolStrokeWidth": 2, "zindex": 1}},
           "shape": {"datum": "Slide A", "type": "nominal",
                     "scale": {"domain": ["Slide A", "Slide B", "A + B (calc)", "AB (obs)"], "range": ["M-1,0H1M0,-0.2L0.2,0L0,0.2L-0.2,0Z", "M-1,0H1M-0.16,-0.16H0.16V0.16H-0.16Z", "M-1,0H1M0,-0.2L0.2,0.16H-0.2Z", "M-1,0H1M-0.18,-0.18L0.18,0.18M0.18,-0.18L-0.18,0.18"]},
                     "legend": {"orient": "none", "legendX": 977, "legendY": 1239, "title": null, "padding": 1.5, "symbolSize": 1600, "clipHeight": 15.5, "symbolOffset": 26, "labelOffset": 29.5, "rowPadding": 0, "labelFont": "DejaVu Sans", "labelFontSize": 14, "labelColor": "#555555", "strokeColor": "#000000", "fillColor": "#ffffff", "symbolOpacity": 1, "symbolStrokeWidth": 2, "zindex": 1}}}},
        {"mark": {"type": "point", "shape": "diamond", "filled": true, "size": 42, "opacity": 1, "color": "#4d9bf5"},
         "encoding": {
           "x": {"field": "nm", "type": "quantitative", "scale": {"domain": [290, 380], "range": [671, 1133], "zero": false, "nice": false}},
           "y": {"field": "slideA", "type": "quantitative", "scale": {"domain": [0, 4], "range": [1519, 1310], "zero": false, "nice": false}}}},
        {"mark": {"type": "line", "color": "#e02a30", "strokeWidth": 1},
         "encoding": {
           "x": {"field": "nm", "type": "quantitative", "scale": {"domain": [290, 380], "range": [671, 1133], "zero": false, "nice": false}},
           "y": {"field": "slideB", "type": "quantitative", "scale": {"domain": [0, 4], "range": [1519, 1310], "zero": false, "nice": false}}}},
        {"mark": {"type": "point", "shape": "square", "filled": true, "size": 80, "opacity": 1, "color": "#e02a30"},
         "encoding": {
           "x": {"field": "nm", "type": "quantitative", "scale": {"domain": [290, 380], "range": [671, 1133], "zero": false, "nice": false}},
           "y": {"field": "slideB", "type": "quantitative", "scale": {"domain": [0, 4], "range": [1519, 1310], "zero": false, "nice": false}}}},
        {"mark": {"type": "line", "color": "#f2f24a", "strokeWidth": 1},
         "encoding": {
           "x": {"field": "nm", "type": "quantitative", "scale": {"domain": [290, 380], "range": [671, 1133], "zero": false, "nice": false}},
           "y": {"field": "calc", "type": "quantitative", "scale": {"domain": [0, 4], "range": [1519, 1310], "zero": false, "nice": false}}}},
        {"mark": {"type": "point", "shape": "triangle-up", "filled": true, "size": 60, "opacity": 1, "color": "#f2f24a"},
         "encoding": {
           "x": {"field": "nm", "type": "quantitative", "scale": {"domain": [290, 380], "range": [671, 1133], "zero": false, "nice": false}},
           "y": {"field": "calc", "type": "quantitative", "scale": {"domain": [0, 4], "range": [1519, 1310], "zero": false, "nice": false}}}},
        {"mark": {"type": "line", "color": "#42d942", "strokeWidth": 1},
         "encoding": {
           "x": {"field": "nm", "type": "quantitative", "scale": {"domain": [290, 380], "range": [671, 1133], "zero": false, "nice": false}},
           "y": {"field": "obs", "type": "quantitative", "scale": {"domain": [0, 4], "range": [1519, 1310], "zero": false, "nice": false}}}},
        {"mark": {"type": "point", "shape": "M-1,-1L1,1M1,-1L-1,1", "filled": false, "size": 72, "strokeWidth": 2, "opacity": 1, "color": "#42d942"},
         "encoding": {
           "x": {"field": "nm", "type": "quantitative", "scale": {"domain": [290, 380], "range": [671, 1133], "zero": false, "nice": false}},
           "y": {"field": "obs", "type": "quantitative", "scale": {"domain": [0, 4], "range": [1519, 1310], "zero": false, "nice": false}}}}
      ]
    }
  ],
  "resolve": {
    "scale": {"x": "independent", "y": "independent", "color": "independent", "fill": "independent", "shape": "independent"},
    "axis": {"x": "independent", "y": "independent"},
    "legend": {"color": "independent", "fill": "independent", "shape": "independent"}
  }
}
